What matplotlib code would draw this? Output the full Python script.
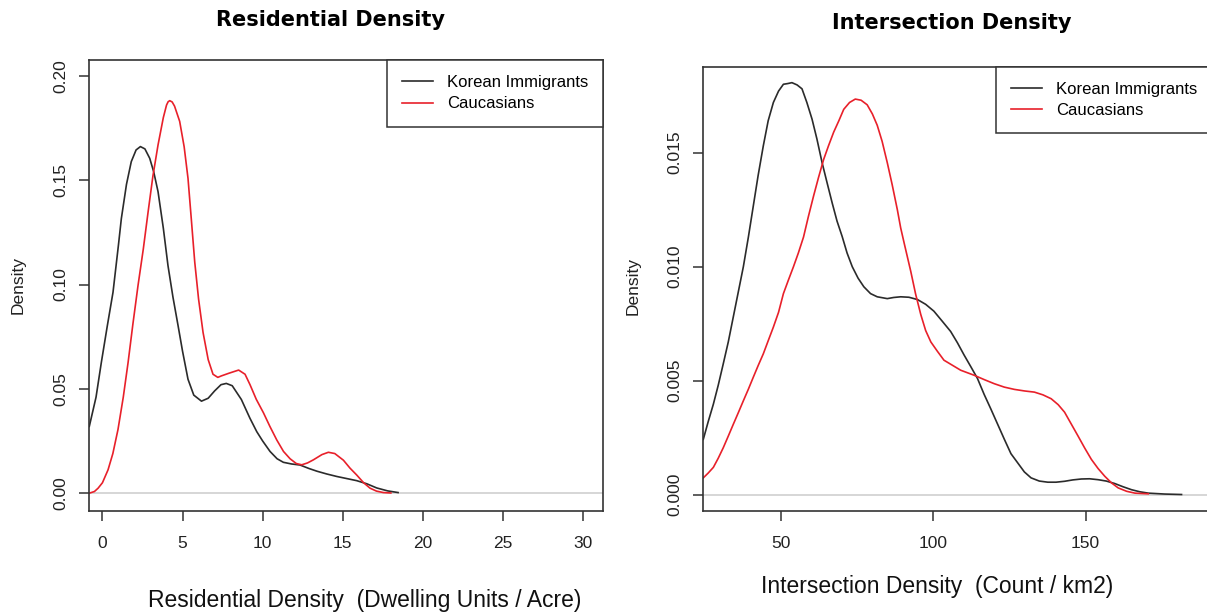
import matplotlib.pyplot as plt
import numpy as np

# densities
res_korean_x = [-0.82, -0.4, -0.07, 0.3, 0.66, 1.0, 1.18, 1.5, 1.8, 2.1, 2.37, 2.65, 2.95, 3.2,
                3.47, 3.8, 4.09, 4.4, 4.72, 5.0, 5.34, 5.7, 6.18, 6.6, 7.0, 7.4, 7.73, 8.1,
                8.67, 9.2, 9.63, 10.0, 10.46, 10.9, 11.29, 11.8, 12.33, 12.9, 13.4, 14.0,
                14.63, 15.25, 15.87, 16.5, 17.12, 17.8, 18.45]
res_korean_y = [0.032, 0.046, 0.0626, 0.08, 0.0963, 0.119, 0.1316, 0.148, 0.1589, 0.1645, 0.1661,
                0.165, 0.1605, 0.154, 0.1445, 0.127, 0.1091, 0.094, 0.0803, 0.068, 0.0546, 0.047,
                0.0441, 0.0455, 0.049, 0.052, 0.0526, 0.0515, 0.0449, 0.036, 0.0295, 0.025, 0.020,
                0.0165, 0.0148, 0.014, 0.0135, 0.0118, 0.0105, 0.0092, 0.008, 0.007, 0.006,
                0.0045, 0.0025, 0.0011, 0.0003]

res_cauc_x = [-0.82, -0.5, -0.27, 0.0, 0.35, 0.65, 0.97, 1.3, 1.6, 1.9, 2.22, 2.55, 2.85, 3.15,
              3.47, 3.8, 4.0, 4.1, 4.2, 4.35, 4.5, 4.82, 5.1, 5.34, 5.55, 5.76, 6.0, 6.28, 6.6,
              6.9, 7.2, 7.42, 7.9, 8.5, 8.9, 9.21, 9.6, 10.05, 10.45, 10.88, 11.3, 11.71, 12.1,
              12.44, 12.8, 13.17, 13.7, 14.1, 14.5, 15.04, 15.45, 15.87, 16.3, 16.7, 17.1,
              17.53, 18.0]
res_cauc_y = [0.0, 0.0008, 0.0024, 0.005, 0.0112, 0.019, 0.0305, 0.046, 0.0626, 0.081, 0.0995,
              0.117, 0.1348, 0.152, 0.1669, 0.180, 0.186, 0.1876, 0.1881, 0.1875, 0.1855, 0.1782,
              0.166, 0.1509, 0.131, 0.1108, 0.093, 0.077, 0.064, 0.057, 0.0555, 0.0562, 0.0575,
              0.059, 0.057, 0.052, 0.045, 0.0385, 0.032, 0.0255, 0.020, 0.0165, 0.0142, 0.0136,
              0.0145, 0.016, 0.0185, 0.0196, 0.019, 0.0158, 0.012, 0.0087, 0.005, 0.0024, 0.001,
              0.0003, 0.0001]

int_korean_x = [24.5, 26.1, 27.8, 29.4, 31.05, 32.7, 34.35, 36.0, 37.65, 39.3, 40.9, 42.5, 44.2,
                45.8, 47.5, 49.2, 50.8, 52.2, 53.6, 55.3, 56.9, 58.5, 60.2, 61.8, 63.5, 65.1,
                66.8, 68.4, 70.1, 71.7, 73.4, 75.3, 77.2, 79.4, 81.6, 84.9, 87.0, 89.3, 92.0,
                94.8, 97.5, 100.2, 103.0, 105.7, 107.9, 110.1, 112.3, 114.5, 116.7, 118.9,
                121.1, 123.3, 125.5, 127.7, 129.9, 132.1, 134.8, 137.6, 140.3, 143.1, 145.8,
                148.6, 151.3, 154.1, 156.8, 159.6, 162.3, 165.1, 167.8, 170.6, 176.0, 181.5]
int_korean_y = [0.00243, 0.0032, 0.00397, 0.0048, 0.00574, 0.0067, 0.0078, 0.0089, 0.0100,
                0.0113, 0.01265, 0.0140, 0.0153, 0.0164, 0.0172, 0.0177, 0.0180, 0.01803,
                0.01807, 0.01797, 0.0178, 0.0172, 0.01647, 0.0156, 0.01456, 0.0137, 0.0128,
                0.0120, 0.01132, 0.0106, 0.0100, 0.0095, 0.00912, 0.00882, 0.00868, 0.0086,
                0.00865, 0.00868, 0.00866, 0.00856, 0.00835, 0.00805, 0.0076, 0.00716, 0.00667,
                0.00613, 0.00562, 0.0051, 0.0044, 0.00376, 0.0031, 0.00244, 0.0018, 0.0014,
                0.0010, 0.00074, 0.0006, 0.00055, 0.00055, 0.00059, 0.00065, 0.00069, 0.0007,
                0.00066, 0.0006, 0.00049, 0.00035, 0.00022, 0.00013, 0.00007, 0.00003, 0.00001]

int_cauc_x = [24.5, 26.1, 27.8, 29.4, 31.05, 32.7, 34.35, 36.0, 37.65, 39.3, 40.9, 42.5, 44.2,
              45.8, 47.5, 49.2, 50.8, 52.4, 54.1, 55.7, 57.4, 59.0, 60.7, 62.3, 64.0, 65.6,
              67.3, 69.0, 70.6, 72.5, 74.4, 76.3, 78.3, 80.0, 81.6, 83.2, 84.9, 86.5, 88.2,
              89.3, 90.5, 92.6, 94.2, 95.9, 97.5, 99.2, 101.3, 103.5, 106.0, 109.0, 111.2,
              113.4, 116.7, 120.0, 123.3, 126.6, 130.0, 133.2, 136.0, 138.7, 141.0, 143.1,
              145.3, 147.5, 149.7, 151.9, 154.1, 156.3, 158.5, 160.7, 163.5, 166.2, 170.6]
int_cauc_y = [0.00074, 0.00095, 0.0012, 0.0016, 0.00206, 0.00257, 0.00309, 0.0036, 0.00412,
              0.00463, 0.00515, 0.00566, 0.00618, 0.00675, 0.00735, 0.0080, 0.00882, 0.0094,
              0.0100, 0.0106, 0.0113, 0.0122, 0.0131, 0.0139, 0.0147, 0.0153, 0.0159, 0.0164,
              0.0169, 0.0172, 0.01735, 0.0173, 0.0171, 0.0167, 0.0162, 0.0155, 0.01456, 0.0136,
              0.0125, 0.0117, 0.0110, 0.0098, 0.0088, 0.0079, 0.0072, 0.0067, 0.0063, 0.0059,
              0.0057, 0.00546, 0.00535, 0.00524, 0.00505, 0.00487, 0.00472, 0.00462, 0.00455,
              0.0045, 0.00438, 0.00421, 0.00395, 0.00362, 0.0031, 0.00258, 0.00205, 0.00155,
              0.00115, 0.00081, 0.00052, 0.0003, 0.00015, 0.00007, 0.00004]

labels = ['Korean Immigrants', 'Caucasians']
res_xticks = [0, 5, 10, 15, 20, 25, 30]
res_yticks = [0.00, 0.05, 0.10, 0.15, 0.20]
int_xticks = [50, 100, 150]
int_yticks = [0.000, 0.005, 0.010, 0.015]

plt.rcParams['font.family'] = ['Liberation Sans', 'DejaVu Sans']

W, H = 1207, 613
fig = plt.figure(figsize=(W / 100, H / 100), dpi=100)
ax1 = fig.add_axes([89.3 / W, (H - 510.5) / H, (603 - 89.3) / W, 450.5 / H])
ax2 = fig.add_axes([703.3 / W, (H - 510.7) / H, (1212 - 703.3) / W, 444 / H])

black = '#2b2b2b'
red = '#e8202a'


def style(ax, xlim, ylim, xticks, yticks, fmt):
    ax.axhline(0, color='#cccccc', lw=1.1, zorder=0)
    ax.set_xlim(*xlim)
    ax.set_ylim(*ylim)
    ax.set_xticks(xticks)
    ax.set_yticks(yticks)
    ax.set_yticklabels([fmt % v for v in yticks], rotation=90, va='center')
    for s in ax.spines.values():
        s.set_color('#333333')
        s.set_linewidth(1.2)
    ax.tick_params(length=7, width=1.1, color='#333333', labelsize=12.5, labelcolor='#222222')
    ax.tick_params(axis='x', pad=11)
    ax.tick_params(axis='y', pad=8)
    leg = ax.legend(labels, loc='upper right', borderaxespad=0, fancybox=False,
                    edgecolor='#333333', fontsize=12, handlelength=1.9,
                    handletextpad=0.8, labelspacing=0.39, borderpad=0.9, framealpha=1)
    leg.get_frame().set_linewidth(1.1)


ax1.plot(res_korean_x, res_korean_y, color=black, lw=1.2)
ax1.plot(res_cauc_x, res_cauc_y, color=red, lw=1.2)
style(ax1, (-0.82, 31.24), (-0.0083, 0.2076), res_xticks, res_yticks, '%.2f')

ax2.plot(int_korean_x, int_korean_y, color=black, lw=1.2)
ax2.plot(int_cauc_x, int_cauc_y, color=red, lw=1.2)
style(ax2, (24.5, 191.5), (-0.0007, 0.01877), int_xticks, int_yticks, '%.3f')

fig.text(330 / W, 1 - 20 / H, 'Residential Density', ha='center', va='center',
         fontsize=15, fontweight='bold', family='DejaVu Sans')
fig.text(952 / W, 1 - 23 / H, 'Intersection Density', ha='center', va='center',
         fontsize=15, fontweight='bold', family='DejaVu Sans')
fig.text(18 / W, 1 - 285 / H, 'Density', rotation=90, ha='center', va='center',
         fontsize=12.5, color='#222222')
fig.text(633 / W, 1 - 286 / H, 'Density', rotation=90, ha='center', va='center',
         fontsize=12.5, color='#222222')
fig.text(365 / W, 1 - 600 / H, 'Residential Density  (Dwelling Units / Acre)',
         ha='center', va='center', fontsize=16.5, color='#111111')
fig.text(937 / W, 1 - 587 / H, 'Intersection Density  (Count / km2)',
         ha='center', va='center', fontsize=16.5, color='#111111')

fig.savefig('out.png', dpi=100)
